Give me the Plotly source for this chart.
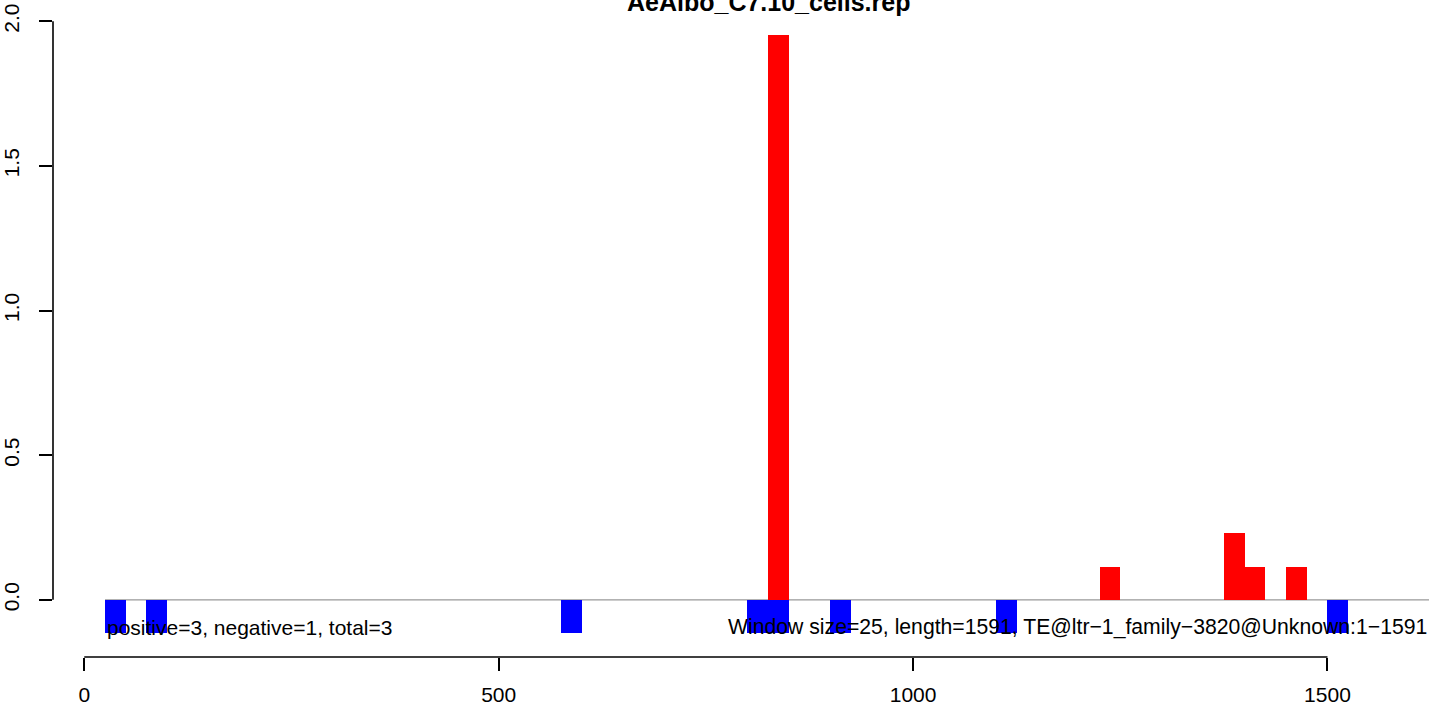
import plotly.graph_objects as go

# ---- data ----
title_text = "AeAlbo_C7.10_cells.rep"
window_size = 25
pos_starts = [825, 1225, 1375, 1400, 1450]
pos_values = [1.954, 0.115, 0.23, 0.115, 0.115]
neg_starts = [25, 75, 575, 800, 825, 900, 1100, 1500]
neg_values = [-0.115] * 8
x_ticks = [0, 500, 1000, 1500]
y_ticks = [0.0, 0.5, 1.0, 1.5, 2.0]
y_tick_labels = ["0.0", "0.5", "1.0", "1.5", "2.0"]
left_note = "positive=3, negative=1, total=3"
right_note = "Window size=25, length=1591, TE@ltr\u22121_family\u22123820@Unknown:1\u22121591"
line_start = 25
x_range = [-37.7, 1622.5]
y_range = [-0.1975, 2.0734]

FONT = "Liberation Sans, Arial, Helvetica, sans-serif"

fig = go.Figure()

fig.add_trace(go.Bar(
    x=[s + window_size / 2 for s in pos_starts], y=pos_values, width=window_size,
    marker=dict(color="#ff0000", line=dict(width=0)), showlegend=False,
))
fig.add_trace(go.Bar(
    x=[s + window_size / 2 for s in neg_starts], y=neg_values, width=window_size,
    marker=dict(color="#0000ff", line=dict(width=0)), showlegend=False,
))

# grey baseline
fig.add_shape(type="line", xref="x", yref="y", x0=line_start, x1=x_range[1], y0=0, y1=0,
              line=dict(color="#999999", width=1.2), layer="below")
# R-style axis lines spanning only the tick range
fig.add_shape(type="line", xref="x", yref="paper", x0=x_ticks[0], x1=x_ticks[-1], y0=0, y1=0,
              line=dict(color="black", width=1.6))
fig.add_shape(type="line", xref="paper", yref="y", x0=0, x1=0, y0=y_ticks[0], y1=y_ticks[-1],
              line=dict(color="black", width=1.6))

fig.add_annotation(text=left_note, xref="x", yref="y", x=line_start, y=-0.095,
                   xanchor="left", yanchor="middle", showarrow=False,
                   font=dict(family=FONT, size=21, color="black"))
fig.add_annotation(text=right_note, xref="paper", yref="y", x=1, y=-0.095,
                   xanchor="right", yanchor="middle", showarrow=False,
                   font=dict(family=FONT, size=21.2, color="black"))
fig.add_annotation(text=title_text, xref="paper", yref="paper", x=0.52, y=1 - 2.5 / 659,
                   xanchor="center", yanchor="middle", showarrow=False,
                   font=dict(family=FONT, size=25, color="black", weight="bold"))

fig.update_layout(
    width=1429, height=706,
    margin=dict(l=51, r=0, t=0, b=47),
    paper_bgcolor="white", plot_bgcolor="white",
    barmode="overlay", bargap=0,
    xaxis=dict(range=x_range, tickvals=x_ticks, ticks="outside", ticklen=13, tickwidth=1.6,
               tickcolor="black", showline=False, showgrid=False, zeroline=False,
               tickfont=dict(family=FONT, size=21, color="black"), ticklabelstandoff=6),
    yaxis=dict(range=y_range, tickvals=y_ticks, ticktext=y_tick_labels, ticks="outside",
               ticklen=13.5, tickwidth=1.6, tickcolor="black", showline=False, showgrid=False,
               zeroline=False, tickangle=-90,
               tickfont=dict(family=FONT, size=21, color="black"), ticklabelstandoff=11),
)

fig.write_html("out.html", config={"displayModeBar": False},
               post_script="document.body.style.margin='0px';document.body.style.overflow='hidden';")
